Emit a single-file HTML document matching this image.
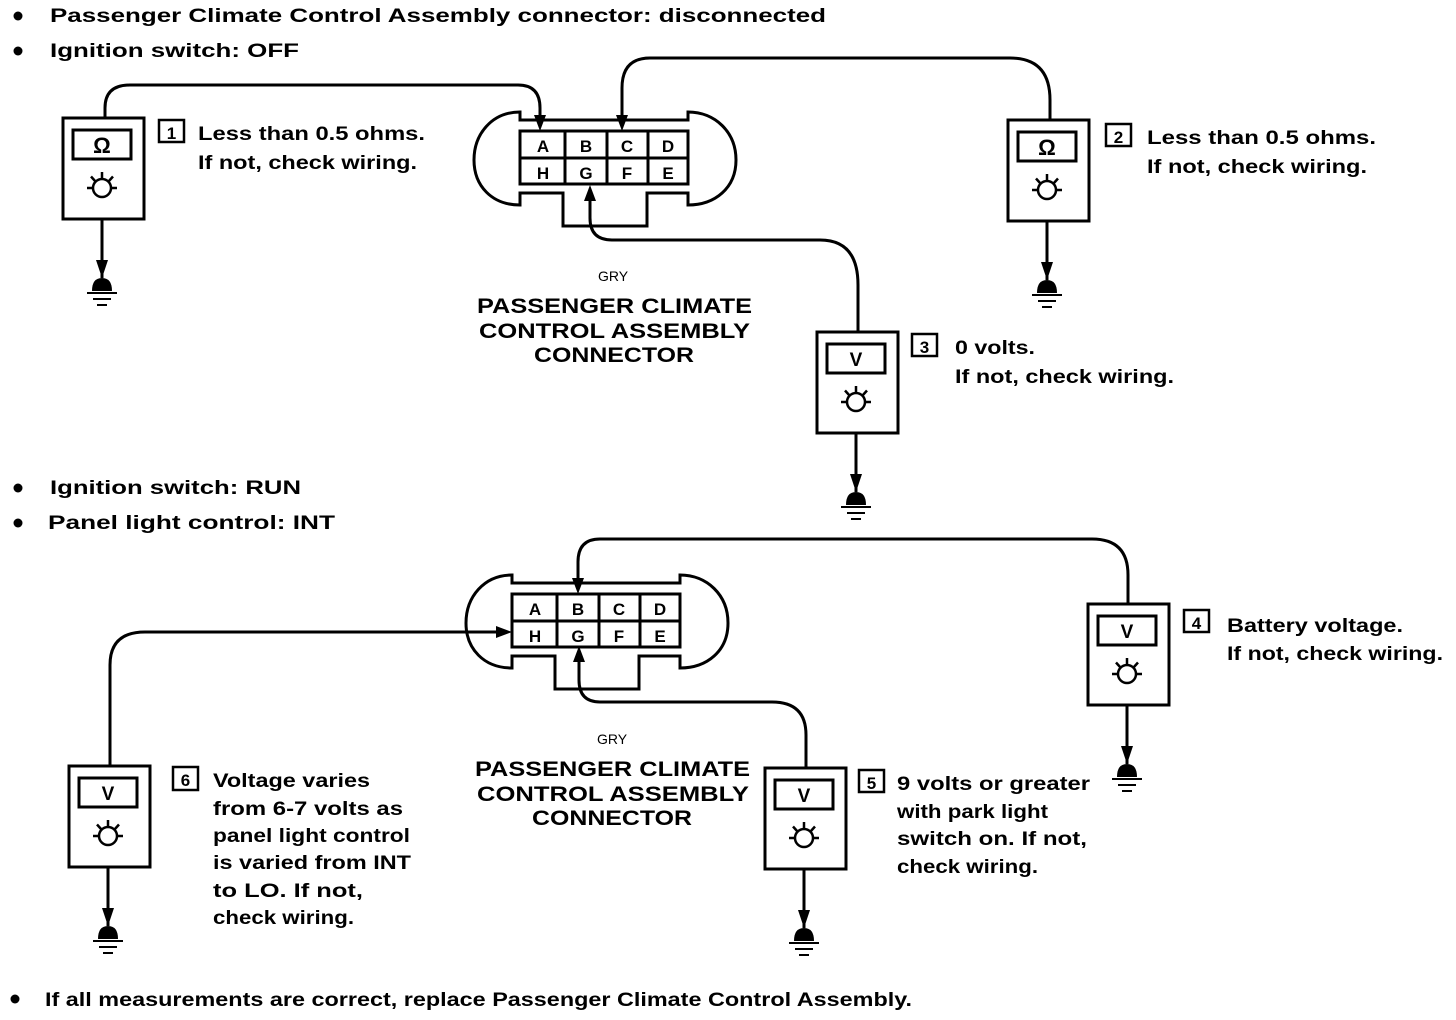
<!DOCTYPE html>
<html><head><meta charset="utf-8"><style>
html,body{margin:0;padding:0;background:#fff;}
svg{display:block;}
text{font-family:"Liberation Sans",sans-serif;font-weight:bold;fill:#000;}
</style></head><body>
<svg width="1456" height="1020" viewBox="0 0 1456 1020" xmlns="http://www.w3.org/2000/svg">
<defs>
<g id="meterbase">
  <rect x="0" y="0" width="81" height="101" fill="#fff" stroke="#000" stroke-width="3"/>
  <rect x="10" y="12" width="58" height="29" fill="none" stroke="#000" stroke-width="3"/>
  <circle cx="39" cy="70" r="9" fill="none" stroke="#000" stroke-width="2.5"/>
  <path d="M24 70H30M48 70H54M39 61V54M32.5 63.5L28 58.5M45.5 63.5L50 58.5" stroke="#000" stroke-width="2.5" fill="none"/>
  <path d="M39 101V160" stroke="#000" stroke-width="3"/>
  <path d="M33 142L45 142L39 160Z" fill="#000"/>
  <path d="M29 173 Q29 160 39 160 Q49 160 49 173Z" fill="#000"/>
  <path d="M24 175H54M30 181H48M34 187H44" stroke="#000" stroke-width="2"/>
</g>
<g id="conn">
  <rect x="520" y="131" width="168" height="53" fill="none" stroke="#000" stroke-width="3"/>
  <path d="M565 131V184M607 131V184M648 131V184M520 158H688" stroke="#000" stroke-width="3"/>
  <path d="M520 112V120H688V112 C715 112 736 132 736 160 C736 188 715 205 688 205 V193H647V226H563V193H520V205 C492 205 474 186 474 160 C474 134 492 112 520 112Z" fill="none" stroke="#000" stroke-width="3"/>
  <g font-size="17" text-anchor="middle">
    <text x="543" y="152">A</text><text x="586" y="152">B</text><text x="627" y="152">C</text><text x="668" y="152">D</text>
    <text x="543" y="179">H</text><text x="586" y="179">G</text><text x="627" y="179">F</text><text x="668" y="179">E</text>
  </g>
</g>
</defs>

<circle cx="18" cy="16" r="4.5" fill="#000"/>
<circle cx="18" cy="51" r="4.5" fill="#000"/>
<text x="50" y="22" font-size="19" textLength="776" lengthAdjust="spacingAndGlyphs">Passenger Climate Control Assembly connector: disconnected</text>
<text x="50" y="57" font-size="19" textLength="249" lengthAdjust="spacingAndGlyphs">Ignition switch: OFF</text>

<use href="#conn"/>
<text x="613" y="281" font-size="14" text-anchor="middle" style="font-weight:normal">GRY</text>
<text x="477" y="313" font-size="21" textLength="275" lengthAdjust="spacingAndGlyphs">PASSENGER CLIMATE</text>
<text x="479" y="338" font-size="21" textLength="271" lengthAdjust="spacingAndGlyphs">CONTROL ASSEMBLY</text>
<text x="534" y="362" font-size="21" textLength="160" lengthAdjust="spacingAndGlyphs">CONNECTOR</text>

<g fill="none" stroke="#000" stroke-width="3">
  <path d="M105 118V108 Q105 85 130 85H518 Q540 85 540 108V125"/>
  <path d="M1050 119V100 Q1050 58 1010 58H650 Q622 58 622 88V125"/>
  <path d="M858 332V285 Q858 240 820 240H612 Q590 240 590 218V190"/>
</g>
<path d="M534 115L546 115L540 131Z" fill="#000"/>
<path d="M616 115L628 115L622 131Z" fill="#000"/>
<path d="M584 201L596 201L590 185Z" fill="#000"/>

<g transform="translate(63,118)"><use href="#meterbase"/><text x="39" y="35" font-size="22" text-anchor="middle">Ω</text></g>
<g transform="translate(1008,120)"><use href="#meterbase"/><text x="39" y="35" font-size="22" text-anchor="middle">Ω</text></g>
<g transform="translate(817,332)"><use href="#meterbase"/><text x="39" y="34" font-size="19" text-anchor="middle">V</text></g>

<g font-size="19">
<rect x="159" y="120" width="25" height="22" fill="none" stroke="#000" stroke-width="2.5"/><text x="171.5" y="139" text-anchor="middle" font-size="17">1</text>
<text x="198" y="140" textLength="227" lengthAdjust="spacingAndGlyphs">Less than 0.5 ohms.</text>
<text x="198" y="169" textLength="219" lengthAdjust="spacingAndGlyphs">If not, check wiring.</text>
<rect x="1106" y="124" width="25" height="22" fill="none" stroke="#000" stroke-width="2.5"/><text x="1118.5" y="143" text-anchor="middle" font-size="17">2</text>
<text x="1147" y="144" textLength="229" lengthAdjust="spacingAndGlyphs">Less than 0.5 ohms.</text>
<text x="1147" y="173" textLength="220" lengthAdjust="spacingAndGlyphs">If not, check wiring.</text>
<rect x="912" y="334" width="25" height="22" fill="none" stroke="#000" stroke-width="2.5"/><text x="924.5" y="353" text-anchor="middle" font-size="17">3</text>
<text x="955" y="354" textLength="80" lengthAdjust="spacingAndGlyphs">0 volts.</text>
<text x="955" y="383" textLength="219" lengthAdjust="spacingAndGlyphs">If not, check wiring.</text>
</g>

<circle cx="18" cy="488" r="4.5" fill="#000"/>
<circle cx="18" cy="523" r="4.5" fill="#000"/>
<text x="50" y="494" font-size="19" textLength="251" lengthAdjust="spacingAndGlyphs">Ignition switch: RUN</text>
<text x="48" y="529" font-size="19" textLength="287" lengthAdjust="spacingAndGlyphs">Panel light control: INT</text>

<g transform="translate(-8,463)"><use href="#conn"/></g>
<text x="612" y="744" font-size="14" text-anchor="middle" style="font-weight:normal">GRY</text>
<text x="475" y="776" font-size="21" textLength="275" lengthAdjust="spacingAndGlyphs">PASSENGER CLIMATE</text>
<text x="477" y="801" font-size="21" textLength="272" lengthAdjust="spacingAndGlyphs">CONTROL ASSEMBLY</text>
<text x="532" y="825" font-size="21" textLength="160" lengthAdjust="spacingAndGlyphs">CONNECTOR</text>

<g fill="none" stroke="#000" stroke-width="3">
  <path d="M1128 604V575 Q1128 539 1092 539H600 Q578 539 578 562V580"/>
  <path d="M806 768V735 Q806 702 772 702H600 Q579 702 579 680V655"/>
  <path d="M110 766V665 Q110 632 145 632H500"/>
</g>
<path d="M572 578L584 578L578 594Z" fill="#000"/>
<path d="M573 662L585 662L579 646Z" fill="#000"/>
<path d="M496 626L496 638L512 632Z" fill="#000"/>

<g transform="translate(1088,604)"><use href="#meterbase"/><text x="39" y="34" font-size="19" text-anchor="middle">V</text></g>
<g transform="translate(765,768)"><use href="#meterbase"/><text x="39" y="34" font-size="19" text-anchor="middle">V</text></g>
<g transform="translate(69,766)"><use href="#meterbase"/><text x="39" y="34" font-size="19" text-anchor="middle">V</text></g>

<g font-size="19">
<rect x="1184" y="610" width="25" height="22" fill="none" stroke="#000" stroke-width="2.5"/><text x="1196.5" y="629" text-anchor="middle" font-size="17">4</text>
<text x="1227" y="632" textLength="176" lengthAdjust="spacingAndGlyphs">Battery voltage.</text>
<text x="1227" y="660" textLength="216" lengthAdjust="spacingAndGlyphs">If not, check wiring.</text>
<rect x="859" y="770" width="25" height="22" fill="none" stroke="#000" stroke-width="2.5"/><text x="871.5" y="789" text-anchor="middle" font-size="17">5</text>
<text x="897" y="790" textLength="193" lengthAdjust="spacingAndGlyphs">9 volts or greater</text>
<text x="897" y="818" textLength="151" lengthAdjust="spacingAndGlyphs">with park light</text>
<text x="897" y="845" textLength="190" lengthAdjust="spacingAndGlyphs">switch on. If not,</text>
<text x="897" y="873" textLength="141" lengthAdjust="spacingAndGlyphs">check wiring.</text>
<rect x="173" y="767" width="25" height="23" fill="none" stroke="#000" stroke-width="2.5"/><text x="185.5" y="786" text-anchor="middle" font-size="17">6</text>
<text x="213" y="787" textLength="157" lengthAdjust="spacingAndGlyphs">Voltage varies</text>
<text x="213" y="815" textLength="190" lengthAdjust="spacingAndGlyphs">from 6-7 volts as</text>
<text x="213" y="842" textLength="197" lengthAdjust="spacingAndGlyphs">panel light control</text>
<text x="213" y="869" textLength="198" lengthAdjust="spacingAndGlyphs">is varied from INT</text>
<text x="213" y="897" textLength="150" lengthAdjust="spacingAndGlyphs">to LO. If not,</text>
<text x="213" y="924" textLength="141" lengthAdjust="spacingAndGlyphs">check wiring.</text>
</g>

<circle cx="15" cy="999" r="4.5" fill="#000"/>
<text x="45" y="1006" font-size="19" textLength="867" lengthAdjust="spacingAndGlyphs">If all measurements are correct, replace Passenger Climate Control Assembly.</text>
</svg>
</body></html>
